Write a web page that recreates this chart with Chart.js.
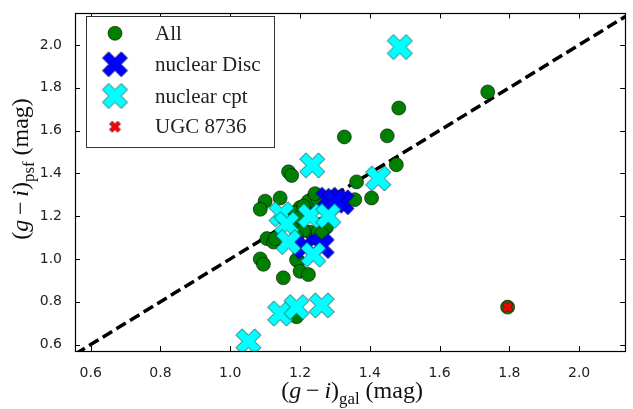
<!DOCTYPE html>
<html><head><meta charset="utf-8">
<script src="https://cdn.jsdelivr.net/npm/chart.js@4"></script>
<style>html,body{margin:0;padding:0;background:#fff}#wrap{width:633px;height:409px}</style>
</head><body><div id="wrap"><canvas id="c" width="633" height="409"></canvas></div>
<script>
const xTicks = [0.6, 0.8, 1.0, 1.2, 1.4, 1.6, 1.8, 2.0];
const yTicks = [0.6, 0.8, 1.0, 1.2, 1.4, 1.6, 1.8, 2.0];
const xRange = [0.555, 2.132];
const yRange = [0.57, 2.147];

const allX = [1.738,1.483,1.450,1.327,1.476,1.362,1.405,1.357,1.167,1.176,1.100,1.143,1.238,1.224,1.252,1.243,1.200,1.186,1.210,1.262,1.200,1.229,1.252,1.276,1.200,1.210,1.262,1.086,1.105,1.124,1.129,1.190,1.086,1.095,1.195,1.190,1.152,1.200,1.224,1.190,1.795,1.300,1.320,1.282,1.160];
const allY = [1.780,1.705,1.575,1.570,1.440,1.360,1.285,1.277,1.407,1.390,1.270,1.285,1.285,1.270,1.277,1.305,1.240,1.216,1.247,1.163,1.156,1.125,1.125,1.148,1.194,1.133,1.117,1.232,1.095,1.079,1.095,1.102,1.000,0.975,0.990,0.996,0.912,0.942,0.927,0.730,0.775,1.280,1.260,1.250,1.180];

const discX = [1.281,1.319,1.300,1.215,1.262];
const discY = [1.277,1.265,1.272,1.058,1.060];

const cptX = [1.486,1.235,1.424,1.147,1.229,1.281,1.162,1.167,1.238,1.143,1.190,1.262,1.052];
const cptY = [1.990,1.437,1.376,1.209,1.201,1.201,1.163,1.079,1.020,0.745,0.775,0.783,0.615];

const ugcX = [1.795];
const ugcY = [0.775];

const lineX = [0.4, 2.3];
const lineY = [0.4, 2.3];

function pts(xs, ys){ return xs.map((x,i)=>({x:x, y:ys[i]})); }

function makeX(box, fill, stroke, lw){
  const pad = 2, s = box + pad*2;
  const cv = document.createElement('canvas');
  cv.width = s; cv.height = s;
  const c = cv.getContext('2d');
  const u = (box/2)/2.828;
  c.translate(s/2, s/2);
  c.rotate(Math.PI/4);
  const v = [[-1,-3],[-1,-1],[-3,-1],[-3,1],[-1,1],[-1,3],[1,3],[1,1],[3,1],[3,-1],[1,-1],[1,-3]];
  c.beginPath();
  v.forEach((p,i)=>{ const X=p[0]*u, Y=p[1]*u; if(i) c.lineTo(X,Y); else c.moveTo(X,Y); });
  c.closePath();
  c.fillStyle = fill; c.fill();
  c.lineWidth = lw; c.strokeStyle = stroke; c.stroke();
  return cv;
}
const discImg = makeX(25, '#0000ff', 'rgba(0,0,60,0.8)', 0.8);
const cptImg = makeX(25, '#00ffff', 'rgba(20,50,50,0.85)', 0.8);
const ugcImg = makeX(11, '#ff0000', 'rgba(60,0,0,0.9)', 0.7);

const SERIF = '"Liberation Serif", "DejaVu Serif", serif';

function drawMath(ctx, parts, size, draw){
  let x = 0;
  parts.forEach(p=>{
    if (p.gap) { x += p.gap*size; return; }
    const fs = p.sub ? size*0.7 : size;
    ctx.font = (p.it ? 'italic ' : '') + fs + 'px ' + SERIF;
    const dy = p.sub ? size*0.24 : 0;
    if (draw) ctx.fillText(p.t, x, dy);
    x += ctx.measureText(p.t).width;
  });
  return x;
}
function mathLabel(ctx, parts, size, cx, cy, rot){
  ctx.save();
  ctx.fillStyle = '#111';
  ctx.textBaseline = 'alphabetic';
  ctx.textAlign = 'left';
  const w = drawMath(ctx, parts, size, false);
  ctx.translate(cx, cy);
  if (rot) ctx.rotate(rot);
  ctx.translate(-w/2, size*0.3);
  drawMath(ctx, parts, size, true);
  ctx.restore();
}

const framePlugin = {
  id: 'frame',
  afterDraw(chart){
    const ctx = chart.ctx, a = chart.chartArea;
    const xs = chart.scales.x, ys = chart.scales.y;
    ctx.save();
    ctx.strokeStyle = '#000';
    ctx.lineWidth = 1;
    const L = 5;
    ctx.beginPath();
    xTicks.forEach(v=>{
      const p = Math.round(xs.getPixelForValue(v)) + 0.5;
      ctx.moveTo(p, a.bottom); ctx.lineTo(p, a.bottom - L);
      ctx.moveTo(p, a.top); ctx.lineTo(p, a.top + L);
    });
    yTicks.forEach(v=>{
      const p = Math.round(ys.getPixelForValue(v)) + 0.5;
      ctx.moveTo(a.left, p); ctx.lineTo(a.left + L, p);
      ctx.moveTo(a.right, p); ctx.lineTo(a.right - L, p);
    });
    ctx.stroke();
    ctx.lineWidth = 1.2;
    ctx.strokeRect(Math.round(a.left)+0.5, Math.round(a.top)+0.5, Math.round(a.right-a.left), Math.round(a.bottom-a.top));

    const lx = 86, ly = 16, lw = 188, lh = 131;
    ctx.fillStyle = '#fff';
    ctx.fillRect(lx, ly, lw, lh);
    ctx.strokeStyle = '#333';
    ctx.lineWidth = 1;
    ctx.strokeRect(lx+0.5, ly+0.5, lw, lh);
    const rows = [33.3, 64.3, 96, 126.7];
    const names = ['All', 'nuclear Disc', 'nuclear cpt', 'UGC 8736'];
    const mx = 115, tx = 155;
    ctx.beginPath(); ctx.arc(mx, rows[0], 7, 0, Math.PI*2);
    ctx.fillStyle = '#008000'; ctx.fill();
    ctx.lineWidth = 0.8; ctx.strokeStyle = 'rgba(0,0,0,0.7)'; ctx.stroke();
    [discImg, cptImg, ugcImg].forEach((im,i)=>{
      ctx.drawImage(im, mx - im.width/2, rows[i+1] - im.height/2);
    });
    ctx.fillStyle = '#222';
    ctx.font = '21px ' + SERIF;
    ctx.textBaseline = 'middle';
    ctx.textAlign = 'left';
    names.forEach((n,i)=> ctx.fillText(n, tx, rows[i] + 1));

    const xParts = [{t:'('},{t:'g',it:true},{gap:0.2},{t:'\u2212'},{gap:0.2},{t:'i',it:true},{t:')'},{t:'gal',sub:true},{t:' (mag)'}];
    const yParts = [{t:'('},{t:'g',it:true},{gap:0.2},{t:'\u2212'},{gap:0.2},{t:'i',it:true},{t:')'},{t:'psf',sub:true},{t:' (mag)'}];
    mathLabel(ctx, xParts, 24, (a.left + a.right)/2 + 2, 391, 0);
    mathLabel(ctx, yParts, 24, 21, 169, -Math.PI/2);
    ctx.restore();
  }
};

const tickFont = { family: '"DejaVu Sans", sans-serif', size: 14 };

new Chart(document.getElementById('c'), {
  type: 'scatter',
  data: {
    datasets: [
      { label: 'line', type: 'line', data: pts(lineX, lineY), borderColor: '#000', borderWidth: 3.5, borderDash: [11, 5], pointRadius: 0, fill: false, order: 4 },
      { label: 'All', data: pts(allX, allY), pointStyle: 'circle', pointRadius: 7, backgroundColor: '#008000', borderColor: 'rgba(0,0,0,0.7)', borderWidth: 0.8, order: 3 },
      { label: 'nuclear Disc', data: pts(discX, discY), pointStyle: discImg, order: 2 },
      { label: 'nuclear cpt', data: pts(cptX, cptY), pointStyle: cptImg, order: 1 },
      { label: 'UGC 8736', data: pts(ugcX, ugcY), pointStyle: ugcImg, order: 0 }
    ]
  },
  options: {
    responsive: false,
    animation: false,
    devicePixelRatio: 1,
    layout: { padding: { top: 6, right: 5, left: 0, bottom: 0 } },
    plugins: { legend: { display: false }, tooltip: { enabled: false } },
    scales: {
      x: {
        type: 'linear', min: xRange[0], max: xRange[1],
        grid: { display: false }, border: { display: false },
        ticks: { font: tickFont, color: '#222', padding: 6, maxRotation: 0, callback: v => v.toFixed(1) },
        afterBuildTicks: s => { s.ticks = xTicks.map(v => ({ value: v })); },
        afterFit: s => { s.height = 58; }
      },
      y: {
        type: 'linear', min: yRange[0], max: yRange[1],
        grid: { display: false }, border: { display: false },
        ticks: { font: tickFont, color: '#222', padding: 5, callback: v => v.toFixed(1) },
        afterBuildTicks: s => { s.ticks = yTicks.map(v => ({ value: v })); },
        afterFit: s => { s.width = 75; }
      }
    }
  },
  plugins: [framePlugin]
});
</script>
</body></html>
